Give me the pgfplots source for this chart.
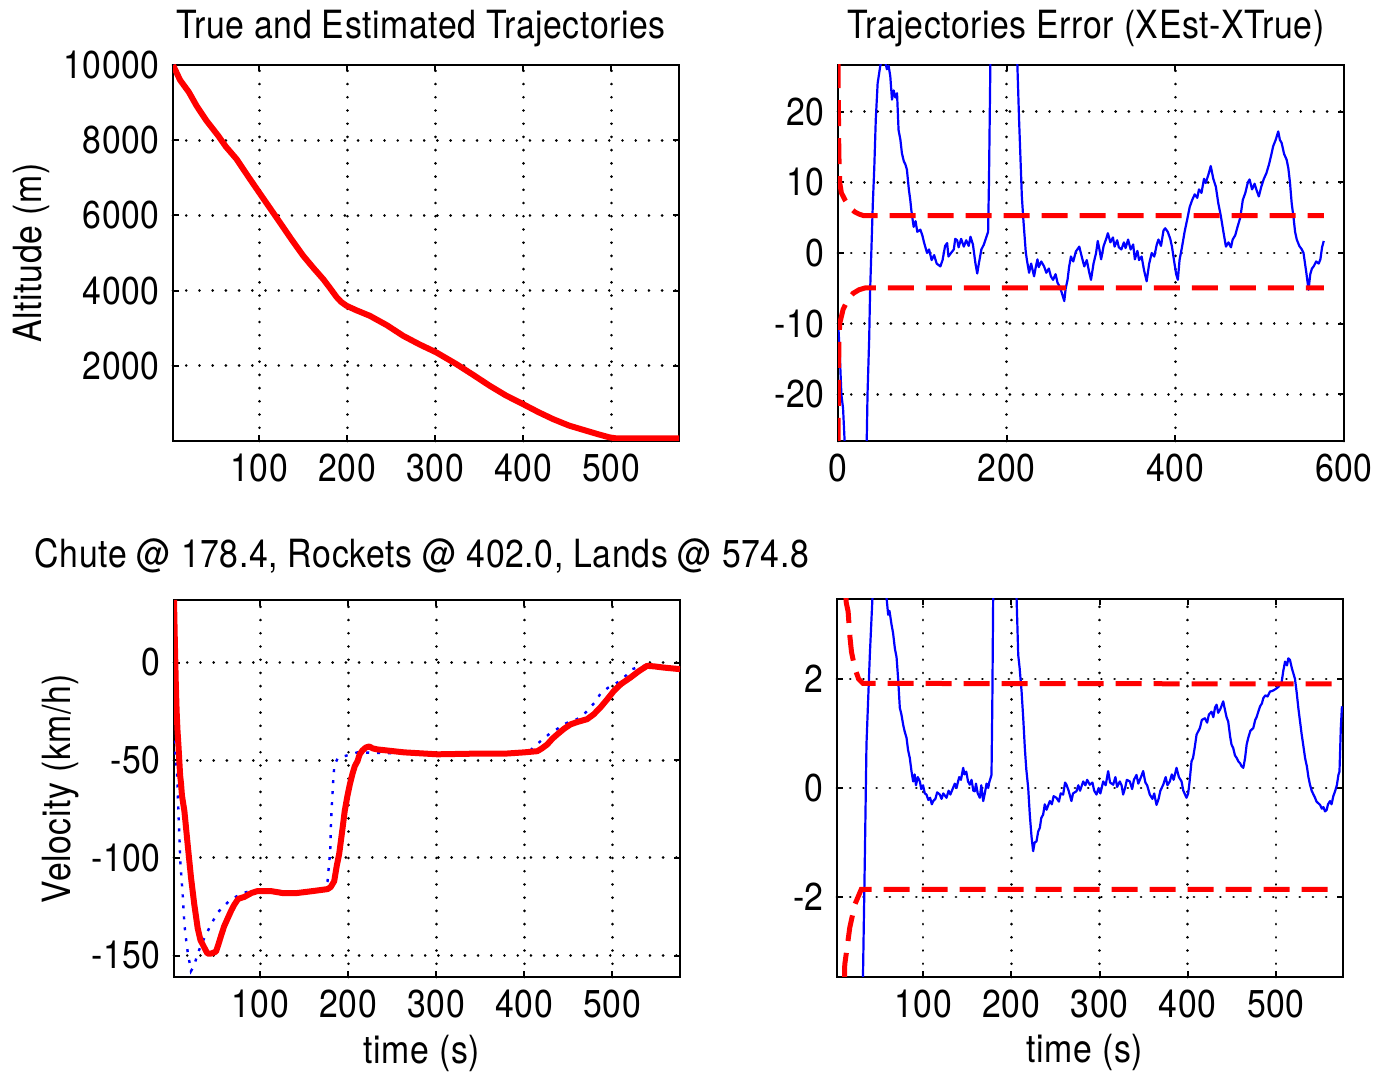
\documentclass[border=0pt]{standalone}
\usepackage{fontspec}
\setmainfont{TeX Gyre Heros}[FakeStretch=0.87, LetterSpace=1.5]
\usepackage{pgfplots}
\pgfplotsset{compat=1.18}
\pgfplotsset{
  mlab/.style={
    scale only axis, width=253bp, height=188bp,
    axis line style={black, line width=1.3bp},
    tick align=inside, major tick length=3bp,
    tick style={black, line width=1bp},
    grid=major,
    major grid style={black, line width=1.4bp, line cap=round, dash pattern=on 0.01bp off 6.6bp},
    /pgf/number format/assume math mode=true,
    /pgf/number format/1000 sep={},
    scaled ticks=false,
    clip=true,
    every axis title/.style={at={(axis description cs:0.5,1)}, anchor=base, yshift=13bp, xshift=-2.5bp},
    every axis x label/.style={at={(axis description cs:0.5,0)}, anchor=base, yshift=-43bp, xshift=-2.5bp},
  },
  est/.style={red, line width=3bp, line join=round},
  tru/.style={blue, line width=1.2bp, dash pattern=on 1.5bp off 4bp},
  err/.style={blue, line width=1.1bp, line join=round},
  bnd/.style={red, line width=2.5bp, dash pattern=on 13bp off 6bp},
}
\begin{document}
\fontsize{19.5}{23}\selectfont
\begin{tikzpicture}
\useasboundingbox (0,0) rectangle (687bp,536bp);

% ---------------- Top left: altitude ----------------
\begin{axis}[mlab, at={(86.5bp,315.5bp)}, anchor=south west,
  xmin=2, xmax=577, ymin=0, ymax=10000,
  xtick={100,200,300,400,500}, ytick={2000,4000,6000,8000,10000},
  title={True and Estimated Trajectories},
  every axis y label/.style={at={(axis description cs:-0.259,0.5)}, rotate=90, anchor=base},
  ylabel={Altitude (m)}]
\addplot[tru] coordinates {
(2,10000) (10,9610) (20,9290) (28.9,8930) (40,8540) (53.5,8135) (62,7850) (74.3,7515)
(87,7060) (100,6606) (112,6200) (123.5,5811) (137,5350) (150,4925) (162,4590)
(172.7,4305) (180,4080) (187.8,3860) (193,3720) (199.2,3610) (210,3480) (225.6,3330)
(245,3080) (263.5,2798) (282,2570) (301.3,2355) (324,2065) (343,1760) (361.9,1469)
(380,1215) (399.7,981) (417,770) (433.8,583) (452,410) (471.6,273) (485,180)
(498,96) (505.7,70) (577,70)};
\addplot[est] coordinates {
(2,10000) (10,9600) (20,9280) (28.9,8910) (40,8520) (53.5,8115) (62,7830) (74.3,7495)
(87,7050) (100,6606) (112,6200) (123.5,5811) (137,5350) (150,4925) (162,4590)
(172.7,4305) (180,4080) (187.8,3830) (193,3700) (199.2,3596) (210,3480) (225.6,3330)
(245,3080) (263.5,2798) (282,2570) (301.3,2355) (324,2045) (343,1760) (361.9,1469)
(380,1215) (399.7,981) (417,770) (433.8,583) (452,410) (471.6,273) (485,180)
(498,96) (505.7,70) (577,70)};
\end{axis}

% ---------------- Top right: position error ----------------
\begin{axis}[mlab, at={(419bp,315.5bp)}, anchor=south west,
  xmin=0, xmax=600, ymin=-26.6, ymax=26.6,
  xtick={0,200,400,600}, ytick={-20,-10,0,10,20},
  title={Trajectories Error (XEst-XTrue)}]
\addplot[err] coordinates {
(0,-9.5) (2,-14) (4,-20) (6,-22) (8,-27) (20,-40) (34,-27) (35,-20) (37,-12) (38,-5.7)
(40,2) (41.3,7) (43,12) (44.8,18.9) (47,24) (50,26.4) (53,28) (56,27) (58,26) (60,26.5)
(62,25) (64,21.7) (66,23) (68,22) (70,22.6) (71.8,17.4) (74,16) (75.8,14.1) (78,13)
(80,12.5) (81.7,11.8) (84,9) (85.7,7.5) (87,6) (89.7,3.7) (92,4.5) (94,3) (97.6,3.3)
(100,2.5) (102,1.5) (105.6,0) (108,0.5) (111,-1) (114,-0.3) (117,-1.5) (121.4,-1.9)
(124,-1) (127,1) (129.4,1.4) (131,-0.5) (134,0) (137.3,0.5) (139,2) (141.3,1.8)
(143,0.8) (146,2.0) (149.2,0.9) (152,1.8) (155,1.0) (157.1,2.3) (160,1.2) (163,-1.5)
(165.1,-2.9) (167,-1.5) (170,0.5) (173,1.2) (176,2.3) (178,3) (179,10) (180,20) (181,30)
(200,45) (211,30) (212.7,26.6) (214.7,18.9) (216.7,12.3) (218,8) (219.8,4.7) (222.6,0.2)
(224,-1) (226.6,-2.8) (229,-1.5) (232.5,-3.3) (234.5,-2) (236.5,-0.9) (238,-2)
(241,-1.2) (244.4,-1.9) (247,-2.8) (250,-2.2) (252.4,-3.3) (255,-3.8) (258,-3)
(260.3,-4.2) (263,-4.8) (265,-5.5) (268.3,-6.8) (270,-5) (272.2,-3.8) (274,-2)
(276.2,-0.5) (279,-1.2) (282,0.2) (286.1,0.9) (289,-0.5) (292,-1.9) (295,-1) (298,-2.8)
(300,-3.8) (303,-1.5) (306,0) (308,1.7) (310,0.5) (312,-0.9) (315,1.0) (318,2) (320,2.8)
(323,1.5) (326,2.2) (328,0.9) (331,1.8) (333,0.8) (336,0.5) (339,1.5) (341,0.7)
(344,1.9) (347,0.5) (350,1.2) (352,-0.9) (355,0.3) (357,-1) (360,-0.5) (363,-2.5)
(366,-4.0) (369,-1.5) (372,0) (375,-0.5) (378,1.2) (380,1.9) (383,1.0) (386,3.2)
(388,3.5) (391,3.0) (394,2.0) (396,0.9) (399,-1.5) (401,-3) (403,-3.8) (405,-1)
(408,0.9) (411,3) (414,4.7) (417,6.5) (420,7.5) (423,8.3) (426,7.8) (428,9.0) (431,8.5)
(434,10.5) (436,9.9) (439,11) (442,12.3) (445,10.5) (448,9.4) (451,7) (454,5.2) (457,3)
(460,0.9) (463,1.5) (466,0.8) (468,1.9) (471,2.5) (474,3.8) (477,5) (480,7.5) (483,8.5)
(486,10) (488,10.4) (491,9) (494,9.8) (496,9.0) (499,8) (502,9.4) (505,10.5) (508,11.3)
(511,12.5) (514,14) (516,15.1) (519,16) (522,17.2) (524,16) (526,15.6) (529,14)
(532,13.2) (534,12) (536,9.9) (538,7) (540,5.2) (542,3) (544,1.9) (547,1) (550,0.5)
(552,0) (555,-2.5) (558,-5.2) (560,-3) (562,-2.2) (564,-1.9) (567,-1.2) (570,-1.5)
(572,-0.9) (574,0.8) (576,1.7)};
\addplot[bnd] coordinates {
(0,27) (0.5,20) (1,14) (2,10) (4,8.5) (8.3,7.5) (14,6.4) (20,5.8) (25,5.5) (30,5.3) (576,5.3)};
\addplot[bnd] coordinates {
(0,-27) (0.5,-20) (1,-13) (2,-10) (6,-8) (12,-6.5) (18,-5.7) (25,-5.2) (32,-4.95) (576,-4.95)};
\end{axis}

% ---------------- Bottom left: velocity ----------------
\begin{axis}[mlab, at={(87bp,47.5bp)}, anchor=south west, height=188.5bp,
  xmin=2, xmax=577, ymin=-161, ymax=32,
  xtick={100,200,300,400,500}, ytick={-150,-100,-50,0},
  title={Chute @ 178.4, Rockets @ 402.0, Lands @ 574.8},
  every axis title/.style={at={(axis description cs:0.5,1)}, anchor=base, yshift=16bp, xshift=-2.5bp},
  every axis y label/.style={at={(axis description cs:-0.2055,0.5)}, rotate=90, anchor=base},
  ylabel={Velocity (km/h)}, xlabel={time (s)}]
\addplot[tru] coordinates {
(2,-40) (3.5,-48) (5.4,-56) (7,-76) (9.2,-102) (11.9,-119) (13.8,-134) (16.8,-146)
(21.3,-158) (25,-155) (28.9,-149) (32.5,-145) (36.5,-141) (44.2,-134) (51.6,-128)
(58,-125) (64.9,-122) (72,-120) (80,-118) (89.4,-117) (120,-117) (150,-117.5)
(170,-117) (176.5,-112) (178,-104) (179.5,-97) (180.2,-85) (181,-76) (182,-68)
(183,-60) (184,-54) (186,-51) (188,-49) (195.4,-48) (210.5,-46) (250,-46.5) (300,-47)
(350,-46.5) (400,-46.5) (407,-45) (414,-42) (422,-39) (430,-36) (437.5,-34) (448,-31)
(460,-29) (470,-25.5) (480,-20.5) (486.6,-16) (495,-13) (509,-9.4) (516,-6.5)
(522.7,-3.4) (529,-2.5) (536,-1.7) (550,-2.5) (566,-3.4) (577,-3.4)};
\addplot[est] coordinates {
(2,32) (3,10) (4,-10) (5,-25) (6,-35) (7,-42) (8,-50) (9,-58) (10,-62) (11,-68)
(13.8,-76) (17.5,-93) (21.3,-110) (25.1,-124) (28.9,-136) (32,-142) (36.5,-146)
(40,-149) (44.2,-149) (49.7,-148) (52,-145) (55.4,-140) (59,-135) (63,-131) (67,-127)
(70.5,-124) (75,-121) (81.9,-120) (90,-118) (97,-117) (112,-117) (125,-118) (142,-118)
(160,-117) (176.5,-116) (180,-115) (184,-112) (187,-104) (189.7,-98) (193.5,-85)
(196,-76) (199.2,-68) (202,-62) (204.8,-57) (207.5,-53) (210.5,-50.5) (213,-47)
(216.2,-45) (220,-43.5) (223.8,-43) (228,-44) (233.2,-44.5) (263.5,-46) (301.3,-47)
(339,-46.7) (377,-46.7) (400,-46) (414.8,-45.4) (420,-44) (426,-42) (432,-39)
(437.5,-36.8) (445,-34) (452.6,-31.7) (460,-30.5) (471.5,-29) (479,-26.5) (486.6,-23)
(494,-19) (501.8,-14.6) (510,-11) (520.7,-7.7) (530,-4.5) (539.6,-1.7) (548,-2)
(558.5,-2.6) (577,-3.4)};
\end{axis}

% ---------------- Bottom right: velocity error ----------------
\begin{axis}[mlab, at={(418.5bp,47.5bp)}, anchor=south west, height=189bp,
  xmin=2.5, xmax=576, ymin=-3.47, ymax=3.47,
  xtick={100,200,300,400,500}, ytick={-2,0,2},
  xlabel={time (s)}]
\addplot[err] coordinates {
(2.5,-8) (25,-6) (31,-4) (32,-3.4) (34,-1.34) (35.9,0.8) (39.7,2.44) (42.7,3.5) (50,5)
(58.6,3.5) (60.5,3.18) (62,3.25) (64.3,3.0) (66,2.85) (68.1,2.56) (70,2.4) (71.8,2.0)
(73.7,1.47) (75.5,1.35) (77.5,1.16) (79,1.05) (81.3,0.92) (83,0.7) (85,0.55) (87,0.3)
(88.8,0.12) (90.5,0.25) (92,0.05) (94,0.2) (96.4,0.12) (98,-0.02) (100,0.05) (102,-0.1)
(103.9,-0.12) (106,-0.22) (108,-0.18) (110,-0.3) (111.5,-0.24) (114,-0.2) (116,-0.08)
(119,-0.12) (121,-0.2) (123,-0.1) (126.6,-0.18) (129,-0.05) (131,-0.12) (134,0)
(136,0.08) (138,0.0) (139.7,0.12) (141,0.2) (143,0.15) (145.5,0.37) (147,0.25)
(149,0.3) (151,0.12) (153,0.06) (155,0.15) (157,-0.05) (158.7,-0.06) (160,0.08)
(162,-0.1) (164.4,-0.18) (166,0.05) (168.2,-0.24) (170,-0.1) (172,0.08) (173.9,0)
(175,0.1) (177.6,0.24) (178.5,1.5) (179.5,3.5) (185,6) (205,6) (206,3.5) (207.9,2.44)
(209.5,2.2) (211.7,1.77) (213.5,1.3) (215.4,0.73) (217,0.35) (219.2,0) (221,-0.49)
(223,-0.9) (224.8,-1.16) (226.5,-1.0) (228.6,-0.98) (230.5,-0.8) (232.4,-0.73)
(234,-0.55) (236.1,-0.49) (238,-0.3) (240,-0.4) (243.7,-0.24) (246,-0.3) (248,-0.15)
(251.2,-0.18) (254,-0.25) (256,-0.1) (258.8,-0.12) (261,0.1) (262.6,0.06) (265,-0.05)
(268.2,-0.24) (270,-0.1) (273.9,-0.06) (276,0.05) (278,-0.05) (281.5,0.12) (284,0.05)
(286,0.15) (289,0.06) (292,0.1) (294,-0.05) (296.6,-0.12) (299,0.0) (301,-0.1)
(304.2,0.12) (307,0.05) (309.8,0.31) (312,0.1) (315.5,0.06) (318,0.2) (320,0.02)
(323,0.12) (325,0.05) (326.8,-0.12) (329,0.0) (331,0.15) (334.4,0.12) (337,-0.02)
(339,0.15) (341.9,0.24) (344,0.08) (347,0.2) (349.5,0.31) (352,0.1) (354,0.05)
(357,-0.12) (360,-0.2) (362,-0.1) (364.6,-0.31) (367,-0.2) (369,-0.05) (372.2,0.06)
(375,0.2) (377,0.05) (379.7,0.12) (382,0.25) (384,0.15) (387.3,0.37) (390,0.2)
(393,0.12) (395,-0.05) (398.6,-0.18) (400.5,-0.1) (402,0.1) (404.3,0.49) (406,0.55)
(408,0.75) (410,0.98) (413.8,1.1) (416,1.25) (419.4,1.28) (422,1.2) (424,1.35) (427,1.4)
(429,1.3) (431,1.48) (432.7,1.53) (434.5,1.38) (437,1.45) (440.2,1.59) (442,1.45)
(444,1.3) (445.9,1.22) (448,0.95) (449.6,0.8) (451.6,0.73) (453.5,0.6) (455.5,0.55)
(457.3,0.49) (459.5,0.45) (461,0.4) (463,0.37) (465,0.55) (466.8,0.8) (468.6,0.92)
(471,1.05) (474.3,1.1) (476.5,1.25) (478,1.3) (480,1.4) (482,1.5) (484,1.55)
(485.7,1.65) (488,1.7) (490.5,1.68) (493.2,1.77) (495.5,1.78) (498,1.8) (500.8,1.83)
(503,1.86) (506.5,1.95) (508.3,2.15) (510.3,2.32) (512.5,2.25) (514,2.38) (515.9,2.35)
(518,2.2) (521.6,2.0) (523.5,1.75) (525.5,1.45) (527.3,1.22) (529,1.0) (531,0.78)
(533,0.55) (535,0.4) (536.8,0.2) (538.6,0.06) (540.5,-0.05) (542.5,-0.12) (544.3,-0.18)
(546,-0.25) (548,-0.28) (550,-0.31) (552,-0.38) (553.8,-0.35) (555.6,-0.43)
(557.5,-0.4) (559,-0.3) (561.3,-0.24) (563,-0.3) (565,-0.15) (567,-0.06) (569,0.05)
(570.8,0.24) (572,0.3) (573.5,1.1) (574.8,1.5)};
\addplot[bnd] coordinates {
(10,4.2) (13,3.4) (15.1,3.24) (17,2.8) (18.9,2.5) (22.7,2.2) (27,2.0) (32,1.92) (576,1.91)};
\addplot[bnd] coordinates {
(10,-4.2) (11.3,-3.24) (17,-2.56) (22.7,-2.14) (30,-1.86) (570,-1.86)};
\end{axis}
\end{tikzpicture}
\end{document}
